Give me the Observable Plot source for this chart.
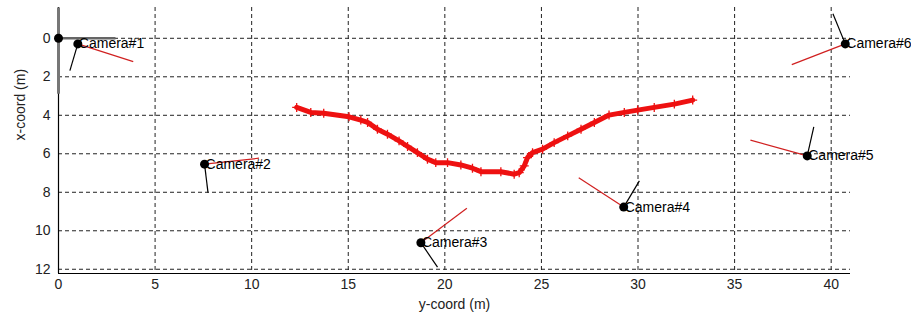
<!DOCTYPE html>
<html><head><meta charset="utf-8">
<script src="https://cdn.jsdelivr.net/npm/d3@7"></script>
<script src="https://cdn.jsdelivr.net/npm/@observablehq/plot@0.6"></script>
<style>body{margin:0;background:#fff}</style>
</head><body><div id="chart"></div>
<script>
const xTicks = [0, 5, 10, 15, 20, 25, 30, 35, 40];
const yTicks = [0, 2, 4, 6, 8, 10, 12];
const camNames = ["Camera#1", "Camera#2", "Camera#3", "Camera#4", "Camera#5", "Camera#6"];
const camH = [1.0, 7.56, 18.76, 29.26, 38.76, 40.73];   // y-coord (horizontal)
const camV = [0.29, 6.54, 10.62, 8.77, 6.11, 0.29];    // x-coord (vertical)
const redH = [3.87, 10.38, 21.14, 26.93, 35.82, 37.96];
const redV = [1.21, 6.23, 8.83, 7.24, 5.29, 1.37];
const blkH = [0.59, 7.74, 19.62, 30.07, 39.1, 40.09];
const blkV = [1.68, 8.02, 11.89, 7.41, 4.6, -1.27];
const trajH = [12.33, 13.06, 13.73, 15.04, 15.65, 16.0, 16.51, 17.03, 17.63, 18.07, 18.58, 19.1, 19.53, 20.14, 20.83, 21.43, 21.87, 22.9, 23.59, 23.85, 24.11, 24.28, 24.54, 25.06, 25.66, 26.36, 27.05, 27.74, 28.5, 29.29, 29.98, 30.84, 31.88, 32.83];
const trajV = [3.59, 3.85, 3.89, 4.08, 4.25, 4.37, 4.72, 4.98, 5.33, 5.62, 5.94, 6.28, 6.46, 6.46, 6.58, 6.75, 6.93, 6.93, 7.06, 6.98, 6.63, 6.2, 5.94, 5.76, 5.42, 5.07, 4.72, 4.37, 3.99, 3.85, 3.73, 3.59, 3.42, 3.21];
const xDomain = [0, 41];
const yDomain = [-1.6, 12.22];

const cams = camNames.map((n, i) => ({name: n, h: camH[i], v: camV[i], rh: redH[i], rv: redV[i], bh: blkH[i], bv: blkV[i]}));
const traj = trajH.map((h, i) => ({h, v: trajV[i]}));
const font = "'Liberation Sans', Arial, sans-serif";

const chart = Plot.plot({
  width: 911, height: 321,
  marginLeft: 58, marginRight: 61, marginTop: 7, marginBottom: 48,
  x: {domain: xDomain},
  y: {domain: yDomain, reverse: true},
  style: {fontFamily: font, fontSize: "14px", background: "white", color: "black"},
  marks: [
    Plot.ruleX(xTicks, {y1: yDomain[0], y2: yDomain[1], stroke: "#222", strokeDasharray: "4,3", strokeWidth: 1}),
    Plot.ruleY(yTicks, {x1: xDomain[0], x2: xDomain[1], stroke: "#222", strokeDasharray: "4,3", strokeWidth: 1}),
    Plot.ruleX([xDomain[0]], {y1: yDomain[0], y2: yDomain[1], stroke: "black", strokeWidth: 1.2}),
    Plot.ruleY([yDomain[1]], {x1: xDomain[0], x2: xDomain[1], stroke: "black", strokeWidth: 1.2}),
    Plot.axisX(xTicks, {tickSize: 0, tickPadding: 6, label: null, fontSize: 14, fill: "#222"}),
    Plot.axisY(yTicks, {tickSize: 0, tickPadding: 8, label: null, fontSize: 14, fill: "#222"}),
    Plot.text(["y-coord (m)"], {frameAnchor: "bottom", dy: 35, fontSize: 14, fill: "#222"}),
    Plot.text(["x-coord (m)"], {frameAnchor: "left", dx: -38, rotate: -90, fontSize: 14, fill: "#222"}),
    // world frame at origin
    Plot.link([0], {x1: 0, y1: yDomain[0], x2: 0, y2: 2.88, stroke: "#777", strokeWidth: 3}),
    Plot.link([0], {x1: 0, y1: 0, x2: 2.95, y2: 0, stroke: "#666", strokeWidth: 2.5}),
    Plot.dot([0], {x: 0, y: 0, r: 4.5, fill: "black"}),
    // trajectory
    Plot.line(traj, {x: "h", y: "v", stroke: "#ee1111", strokeWidth: 5, curve: "linear", strokeLinejoin: "round"}),
    Plot.dot(traj, {x: "h", y: "v", symbol: "plus", r: 3, stroke: "#ee1111", strokeWidth: 1.3}),
    // camera orientation lines
    Plot.link(cams, {x1: "h", y1: "v", x2: "rh", y2: "rv", stroke: "#d02020", strokeWidth: 1.2}),
    Plot.link(cams, {x1: "h", y1: "v", x2: "bh", y2: "bv", stroke: "black", strokeWidth: 1.2}),
    Plot.dot(cams, {x: "h", y: "v", r: 4.5, fill: "black"}),
    Plot.text(cams, {x: "h", y: "v", text: "name", textAnchor: "start", dx: 1, fontSize: 14, fill: "black"})
  ]
});
document.getElementById("chart").appendChild(chart);
</script>
</body></html>
